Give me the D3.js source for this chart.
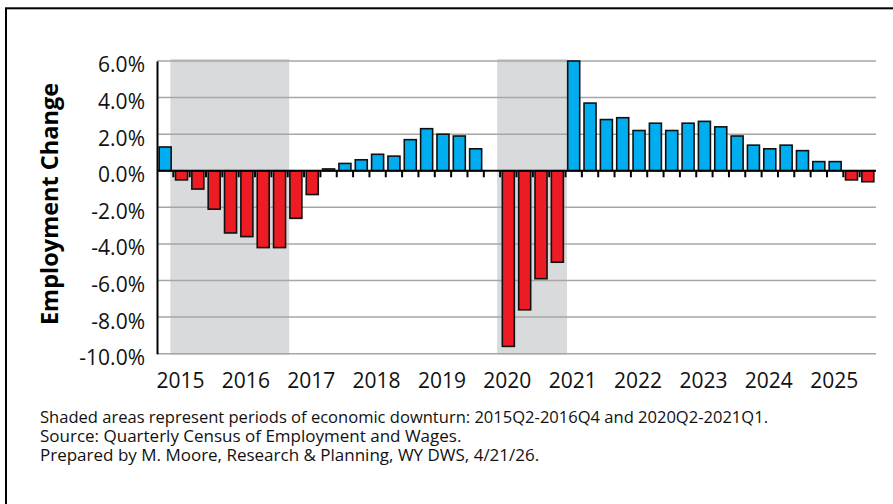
<!DOCTYPE html>
<html>
<head>
<meta charset="utf-8">
<script src="https://cdnjs.cloudflare.com/ajax/libs/d3/7.8.5/d3.min.js"></script>
<style>
	body { margin: 0; background: #fff; }
	svg { display: block; }
</style>
</head>
<body>
<div id="chart"></div>
<script>
//quarters on the category axis
var quarters = [
	"2015Q1", "2015Q2", "2015Q3", "2015Q4", "2016Q1", "2016Q2", "2016Q3", "2016Q4",
	"2017Q1", "2017Q2", "2017Q3", "2017Q4", "2018Q1", "2018Q2", "2018Q3", "2018Q4",
	"2019Q1", "2019Q2", "2019Q3", "2019Q4", "2020Q1", "2020Q2", "2020Q3", "2020Q4",
	"2021Q1", "2021Q2", "2021Q3", "2021Q4", "2022Q1", "2022Q2", "2022Q3", "2022Q4",
	"2023Q1", "2023Q2", "2023Q3", "2023Q4", "2024Q1", "2024Q2", "2024Q3", "2024Q4",
	"2025Q1", "2025Q2", "2025Q3", "2025Q4"];

//over the year employment change, percent
var changes = [
	1.3, -0.5, -1.0, -2.1, -3.4, -3.6, -4.2, -4.2,
	-2.6, -1.3, 0.1, 0.4, 0.6, 0.9, 0.8, 1.7,
	2.3, 2.0, 1.9, 1.2, 0.0, -9.6, -7.6, -5.9,
	-5.0, 6.0, 3.7, 2.8, 2.9, 2.2, 2.6, 2.2,
	2.6, 2.7, 2.4, 1.9, 1.4, 1.2, 1.4, 1.1,
	0.5, 0.5, -0.5, -0.6];

var yTicks = [6, 4, 2, 0, -2, -4, -6, -8, -10];
var years = ["2015", "2016", "2017", "2018", "2019", "2020", "2021", "2022", "2023", "2024", "2025"];

//shaded downturn periods (first and last quarter)
var downturnStart = ["2015Q2", "2020Q2"];
var downturnEnd = ["2016Q4", "2021Q1"];

var footnotes = [
	"Shaded areas represent periods of economic downturn: 2015Q2-2016Q4 and 2020Q2-2021Q1.",
	"Source: Quarterly Census of Employment and Wages.",
	"Prepared by M. Moore, Research & Planning, WY DWS, 4/21/26."];

var mainWidth = 893, mainHeight = 504;
//plot bounds (named so they don't clash with window.top)
var plotLeft = 157, plotRight = 876, plotTop = 61, plotBottom = 353.7;
var font = "'Open Sans', sans-serif";

var svg = d3.select("#chart").append("svg")
	.attr("width", mainWidth)
	.attr("height", mainHeight);

//outer frame, only top and left edges show
svg.append("rect")
	.attr("x", 6).attr("y", 8.3)
	.attr("width", 1200).attr("height", 1200)
	.attr("fill", "none")
	.attr("stroke", "#000")
	.attr("stroke-width", 2);

var x = d3.scaleBand()
	.domain(quarters)
	.range([plotLeft, plotRight])
	.paddingInner(0.265)
	.paddingOuter(0.1325);

var y = d3.scaleLinear()
	.domain([-10, 6])
	.range([plotBottom, plotTop]);

var half = x.step() * 0.1325;

//shading for downturns
svg.selectAll(".shade")
	.data(downturnStart)
	.enter().append("rect")
		.attr("class", "shade")
		.attr("x", function (d) { return x(d) - half - 3; })
		.attr("width", function (d, i) { return x(downturnEnd[i]) + x.bandwidth() + half - x(d) + half + 4.5; })
		.attr("y", y(6) - 2)
		.attr("height", y(-10) - y(6) + 3)
		.attr("fill", "#d9dadc");

//gridlines
svg.selectAll(".grid")
	.data(yTicks.filter(function (d) { return d != 0; }))
	.enter().append("line")
		.attr("x1", plotLeft).attr("x2", plotRight)
		.attr("y1", function (d) { return y(d); })
		.attr("y2", function (d) { return y(d); })
		.attr("stroke", "#a6a6a6")
		.attr("stroke-width", 1.5);

//bars
svg.selectAll(".bar")
	.data(changes)
	.enter().append("rect")
		.attr("class", "bar")
		.attr("x", function (d, i) { return x(quarters[i]); })
		.attr("width", x.bandwidth())
		.attr("y", function (d) { return y(Math.max(d, 0)); })
		.attr("height", function (d) { return Math.abs(y(d) - y(0)); })
		.attr("fill", function (d) { return d >= 0 ? "#00aeef" : "#ed1c24"; })
		.attr("stroke", "#111")
		.attr("stroke-width", 1.6);

//zero axis with tick marks between quarters
svg.append("line")
	.attr("x1", plotLeft).attr("x2", plotRight)
	.attr("y1", y(0)).attr("y2", y(0))
	.attr("stroke", "#000")
	.attr("stroke-width", 2);

svg.selectAll(".qtick")
	.data(quarters.slice(1))
	.enter().append("line")
		.attr("x1", function (d) { return x(d) - half; })
		.attr("x2", function (d) { return x(d) - half; })
		.attr("y1", y(0))
		.attr("y2", y(0) + 6.5)
		.attr("stroke", "#000")
		.attr("stroke-width", 2);

//y axis
var yAxis = d3.axisLeft(y)
	.tickValues(yTicks)
	.tickSize(0)
	.tickPadding(12)
	.tickFormat(function (d) { return d.toFixed(1) + "%"; });

var gy = svg.append("g")
	.attr("transform", "translate(" + plotLeft + ",0)")
	.call(yAxis);

gy.select(".domain")
	.attr("stroke", "#000")
	.attr("stroke-width", 2);

gy.selectAll("text")
	.attr("dy", "0.52em")
	.style("font-family", font)
	.style("font-size", "21px")
	.attr("fill", "#111");

//y axis title
svg.append("text")
	.attr("transform", "translate(50,204) rotate(-90)")
	.attr("text-anchor", "middle")
	.attr("dy", "0.35em")
	.style("font-family", font)
	.style("font-weight", "bold")
	.style("font-size", "23.5px")
	.text("Employment Change");

//year labels
svg.selectAll(".year")
	.data(years)
	.enter().append("text")
		.attr("x", function (d) { return x(d + "Q2") + x.bandwidth() / 2 - 1; })
		.attr("y", 388.3)
		.attr("text-anchor", "middle")
		.style("font-family", font)
		.style("font-size", "21px")
		.attr("fill", "#111")
		.text(function (d) { return d; });

//notes under the chart
var notes = svg.selectAll(".note")
	.data(footnotes)
	.enter().append("text")
		.attr("class", "note")
		.attr("x", 40)
		.attr("y", function (d, i) { return 423 + i * 19; })
		.style("font-family", font)
		.style("font-size", "17px")
		.attr("fill", "#111")
		.text(function (d) { return d; });

//first line is squeezed in the original
notes.filter(function (d, i) { return i == 0; })
	.attr("textLength", 728)
	.attr("lengthAdjust", "spacingAndGlyphs");
</script>
</body>
</html>
